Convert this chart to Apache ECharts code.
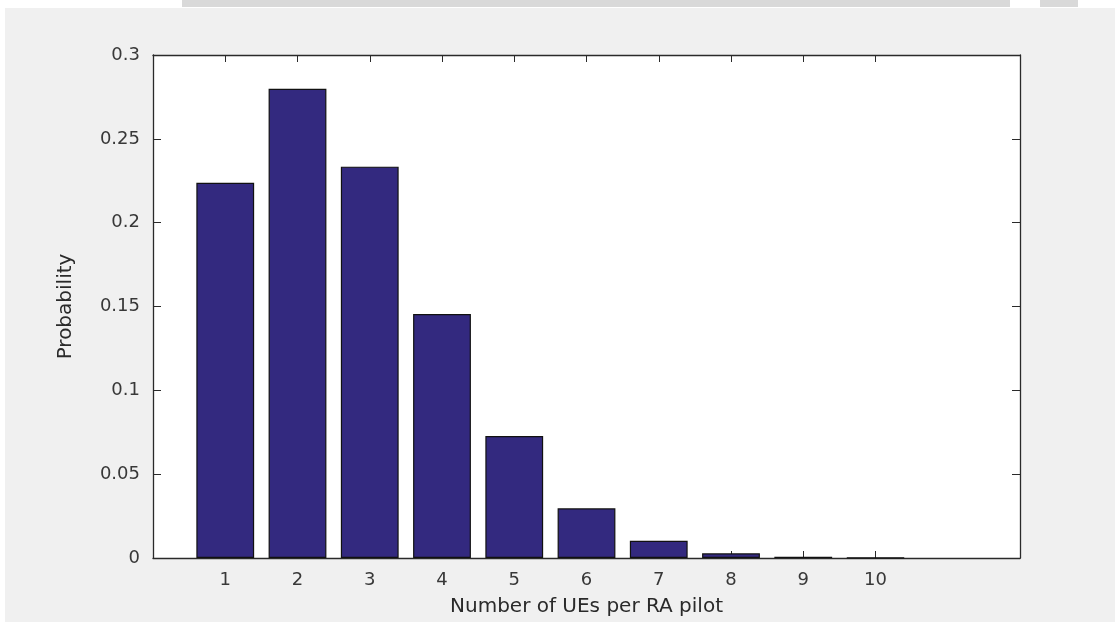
<!DOCTYPE html>
<html><head><meta charset="utf-8">
<script src="https://cdn.jsdelivr.net/npm/echarts@6/dist/echarts.min.js"></script>
<style>html,body{margin:0;padding:0;background:#fff}#c{width:1115px;height:622px}</style>
</head><body><div id="c"></div>
<script>
const categories = [1, 2, 3, 4, 5, 6, 7, 8, 9, 10];
const probabilities = [0.2238, 0.2799, 0.2334, 0.1455, 0.0728, 0.0296, 0.0103, 0.0028, 0.0008, 0.0002];
const yTickValues = [0, 0.05, 0.1, 0.15, 0.2, 0.25, 0.3];
const xTitle = 'Number of UEs per RA pilot';
const yTitle = 'Probability';

const chart = echarts.init(document.getElementById('c'), null, {renderer: 'canvas'});
const font = 'DejaVu Sans';
const axisColor = '#2a2a2a';
const labelColor = '#383838';

function axisBase(extra) {
  return Object.assign({
    axisLine: {show: true, onZero: false, lineStyle: {color: axisColor, width: 1.3}},
    splitLine: {show: false}
  }, extra);
}

const option = {
  backgroundColor: '#f0f0f0',
  animation: false,
  graphic: [
    {type: 'rect', shape: {x: 0, y: 0, width: 1115, height: 8}, style: {fill: '#ffffff'}, silent: true},
    {type: 'rect', shape: {x: 0, y: 0, width: 5, height: 622}, style: {fill: '#ffffff'}, silent: true},
    {type: 'rect', shape: {x: 182, y: 0, width: 828, height: 7}, style: {fill: '#d9d9d9'}, silent: true},
    {type: 'rect', shape: {x: 1040, y: 0, width: 38, height: 7}, style: {fill: '#d9d9d9'}, silent: true}
  ],
  grid: {left: 153, top: 55, right: 95, bottom: 64, show: true, backgroundColor: '#ffffff', borderWidth: 0},
  xAxis: [
    axisBase({
      type: 'value', min: 0, max: 12, interval: 1, position: 'bottom',
      axisTick: {show: true, inside: true, length: 7, customValues: categories, lineStyle: {color: axisColor}},
      axisLabel: {show: true, customValues: categories, color: labelColor, fontFamily: font, fontSize: 18, margin: 13},
      name: xTitle, nameLocation: 'middle', nameGap: 39,
      nameTextStyle: {color: '#2a2a2a', fontFamily: font, fontSize: 20}
    }),
    axisBase({
      type: 'value', min: 0, max: 12, interval: 1, position: 'top',
      axisTick: {show: true, inside: true, length: 7, customValues: categories, lineStyle: {color: axisColor}},
      axisLabel: {show: false}
    })
  ],
  yAxis: [
    axisBase({
      type: 'value', min: 0, max: 0.3, interval: 0.05, position: 'left',
      axisTick: {show: true, inside: true, length: 8, customValues: yTickValues, lineStyle: {color: axisColor}},
      axisLabel: {show: true, customValues: yTickValues, color: labelColor, fontFamily: font, fontSize: 18, margin: 13},
      name: yTitle, nameLocation: 'middle', nameGap: 77,
      nameTextStyle: {color: '#2a2a2a', fontFamily: font, fontSize: 20}
    }),
    axisBase({
      type: 'value', min: 0, max: 0.3, interval: 0.05, position: 'right',
      axisTick: {show: true, inside: true, length: 8, customValues: yTickValues, lineStyle: {color: axisColor}},
      axisLabel: {show: false}
    })
  ],
  series: [{
    type: 'bar',
    xAxisIndex: 0, yAxisIndex: 0,
    data: categories.map((c, i) => [c, probabilities[i]]),
    barWidth: '80%',
    itemStyle: {color: '#33297f', borderColor: '#111111', borderWidth: 1.2},
    emphasis: {disabled: true}
  }]
};
chart.setOption(option);
</script>
</body></html>
